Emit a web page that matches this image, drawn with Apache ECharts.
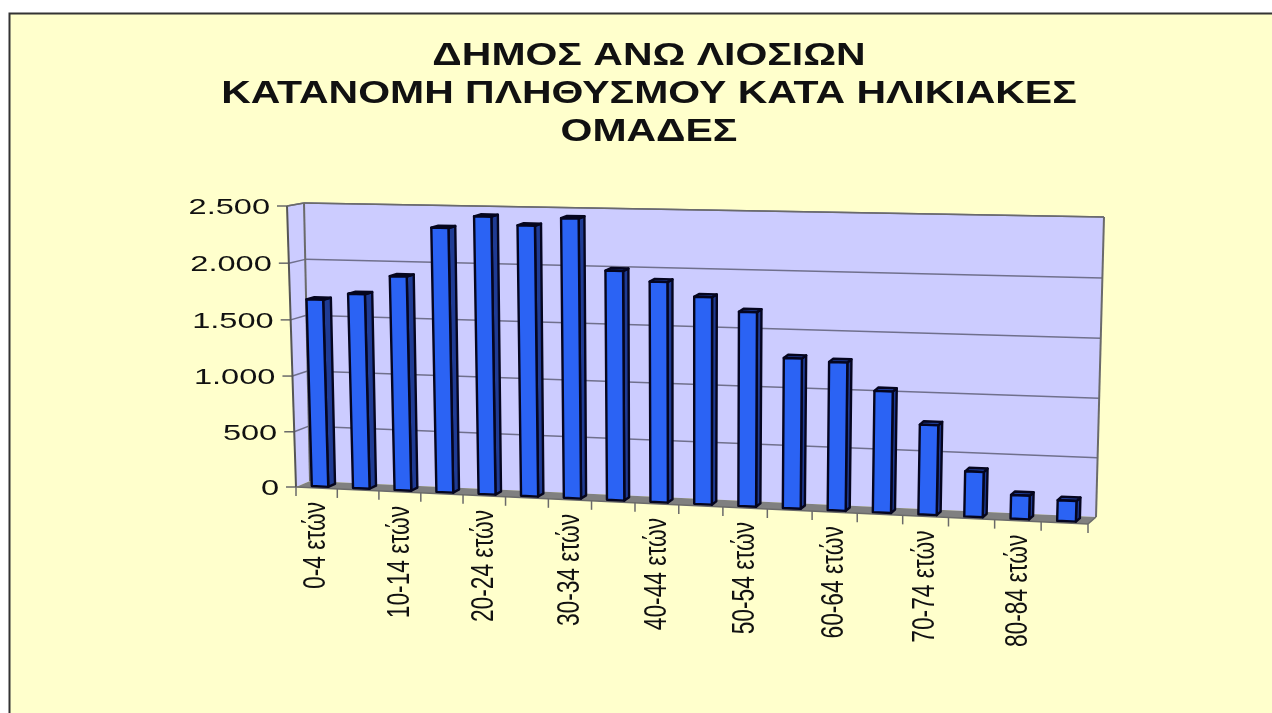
<!DOCTYPE html>
<html><head><meta charset="utf-8">
<style>html,body{margin:0;padding:0;background:#fff}#c{width:1272px;height:713px}</style>
<script src="https://cdn.jsdelivr.net/npm/echarts@6/dist/echarts.min.js"></script>
</head><body><div id="c"></div>
<script>
var titleLines = ['ΔΗΜΟΣ ΑΝΩ ΛΙΟΣΙΩΝ', 'ΚΑΤΑΝΟΜΗ ΠΛΗΘΥΣΜΟΥ ΚΑΤΑ ΗΛΙΚΙΑΚΕΣ', 'ΟΜΑΔΕΣ'];
var categories = ['0-4 ετών','5-9 ετών','10-14 ετών','15-19 ετών','20-24 ετών','25-29 ετών','30-34 ετών','35-39 ετών','40-44 ετών','45-49 ετών','50-54 ετών','55-59 ετών','60-64 ετών','65-69 ετών','70-74 ετών','75-79 ετών','80-84 ετών','85+ ετών'];
var population = [1675,1735,1900,2332,2438,2368,2438,1998,1914,1795,1678,1296,1275,1042,769,387,202,175];
var yTicks = [0,500,1000,1500,2000,2500];
var yTickLabels = ['0','500','1.000','1.500','2.000','2.500'];

var frontQuad = [[296,487],[1088,524],[1097,224],[287,206]];
var backQuad  = [[310,481],[1096,517],[1104,217],[304,203]];
function homography(q){
  var x0=q[0][0],y0=q[0][1],x1=q[1][0],y1=q[1][1],x2=q[2][0],y2=q[2][1],x3=q[3][0],y3=q[3][1];
  var dx1=x1-x2,dx2=x3-x2,sx=x0-x1+x2-x3,dy1=y1-y2,dy2=y3-y2,sy=y0-y1+y2-y3;
  var den=dx1*dy2-dx2*dy1,g=(sx*dy2-dx2*sy)/den,h=(dx1*sy-sx*dy1)/den;
  var a=x1-x0+g*x1,b=x3-x0+h*x3,d=y1-y0+g*y1,e=y3-y0+h*y3;
  return function(u,v){var w=g*u+h*v+1;return [(a*u+b*v+x0)/w,(d*u+e*v+y0)/w];};
}
var F=homography(frontQuad),B=homography(backQuad);
function P(u,v,t){var f=F(u,v),b=B(u,v);return [f[0]+(b[0]-f[0])*t,f[1]+(b[1]-f[1])*t];}
function uv(api,params,cat,val){
  var c=api.coord([cat,val]),s=params.coordSys;
  return [(c[0]-s.x)/s.width,(s.y+s.height-c[1])/s.height];
}
var WALL='#ccccff',FLOOR='#808080',GRID='#70708c',AXIS='#6a6a6a';
var FONT='Liberation Sans, Arial, sans-serif';
function poly(pts,fill,stroke,lw){return {type:'polygon',shape:{points:pts},style:{fill:fill,stroke:stroke||null,lineWidth:lw||0,lineJoin:'round'}};}
function line(a,b,col,lw){return {type:'polyline',shape:{points:[a,b]},style:{fill:null,stroke:col,lineWidth:lw||1.5}};}

function renderScene(params,api){
  var ch=[];
  ch.push(poly([P(0,0,0),P(0,1,0),P(0,1,1),P(0,0,1)],WALL));
  ch.push(poly([P(0,0,1),P(0,1,1),P(1,1,1),P(1,0,1)],WALL));
  ch.push(poly([P(0,0,0),P(0,0,1),P(1,0,1),P(1,0,0)],FLOOR));
  yTicks.forEach(function(t,i){
    var v=uv(api,params,0,t)[1];
    var a=P(0,v,0),b=P(0,v,1),c=P(1,v,1);
    if(i>0){ch.push(line(a,b,GRID));ch.push(line(b,c,GRID));}
    ch.push(line([a[0]-10,a[1]],a,AXIS));
    ch.push({type:'text',x:a[0]-17,y:a[1]+2,scaleX:1.48,style:{text:yTickLabels[i],align:'right',verticalAlign:'middle',font:'22px '+FONT,fill:'#111'}});
  });
  ch.push(line(P(0,0,0),P(0,1,0),'#555',2));
  ch.push(line(P(0,1,0),P(0,1,1),AXIS,1.5));
  ch.push(line(P(0,1,1),P(0,0,1),AXIS,2));
  ch.push(line(P(0,1,1),P(1,1,1),AXIS,1.5));
  ch.push(line(P(1,1,1),P(1,0,1),AXIS,2));
  ch.push(line(P(1,0,1),P(1,0,0),AXIS,1.5));
  ch.push(line(P(0,0,0),P(1,0,0),AXIS,1.5));
  for(var i=0;i<=categories.length;i++){
    var a=P(i/categories.length,0,0);
    ch.push(line(a,[a[0],a[1]+9],AXIS));
  }
  return {type:'group',children:ch};
}
function renderBar(params,api){
  var idx=api.value(0),val=api.value(1),n=categories.length;
  var u=uv(api,params,idx,val),cu=u[0],tv=u[1],hw=0.2/n;
  var u0=cu-hw,u1=cu+hw,d0=0.25,d1=0.75;
  var side=[P(u1,0,d0),P(u1,tv,d0),P(u1,tv,d1),P(u1,0,d1)];
  var top=[P(u0,tv,d0),P(u1,tv,d0),P(u1,tv,d1),P(u0,tv,d1)];
  var front=[P(u0,0,d0),P(u1,0,d0),P(u1,tv,d0),P(u0,tv,d0)];
  return {type:'group',children:[
    poly(side,'#1f3b94','#05051e',2.4),
    poly(top,'#1f3b94','#05051e',2.4),
    poly(front,'#2b63f4','#05051e',2.4)
  ]};
}
function renderLabel(params,api){
  var idx=api.value(0),n=categories.length;
  var u=uv(api,params,idx,0)[0];
  var p=P(u,0,0);
  return {type:'text',x:p[0],y:p[1]+14,rotation:Math.PI/2,scaleX:0.71,
    style:{text:categories[idx],align:'right',verticalAlign:'middle',font:'32px '+FONT,fill:'#111'}};
}
var chart=echarts.init(document.getElementById('c'),null,{renderer:'canvas'});
chart.setOption({
  animation:false,
  backgroundColor:'#ffffff',
  graphic:{elements:[
    {type:'rect',z:-10,shape:{x:9.5,y:13.5,width:1300,height:760},style:{fill:'#ffffcc',stroke:'#333333',lineWidth:2}}
  ].concat(titleLines.map(function(t,i){
    return {type:'text',z:10,x:649,y:[56,94,132][i],scaleX:1.28,style:{text:t,align:'center',verticalAlign:'middle',font:'bold 32px '+FONT,fill:'#111'}};
  }))},
  grid:{left:296,right:1272-1088,top:206,bottom:713-487,containLabel:false},
  xAxis:{type:'category',data:categories,show:false},
  yAxis:{type:'value',min:0,max:2500,interval:500,show:false},
  series:[
    {type:'custom',z:2,silent:true,data:[[0,0]],clip:false,renderItem:renderScene,encode:{x:0,y:1}},
    {type:'custom',z:3,silent:true,clip:false,renderItem:renderBar,encode:{x:0,y:1},
      data:population.map(function(v,i){return [i,v];})},
    {type:'custom',z:4,silent:true,clip:false,renderItem:renderLabel,encode:{x:0,y:1},
      data:categories.map(function(c,i){return [i,0];}).filter(function(d){return d[0]%2===0;})}
  ]
});
</script></body></html>
